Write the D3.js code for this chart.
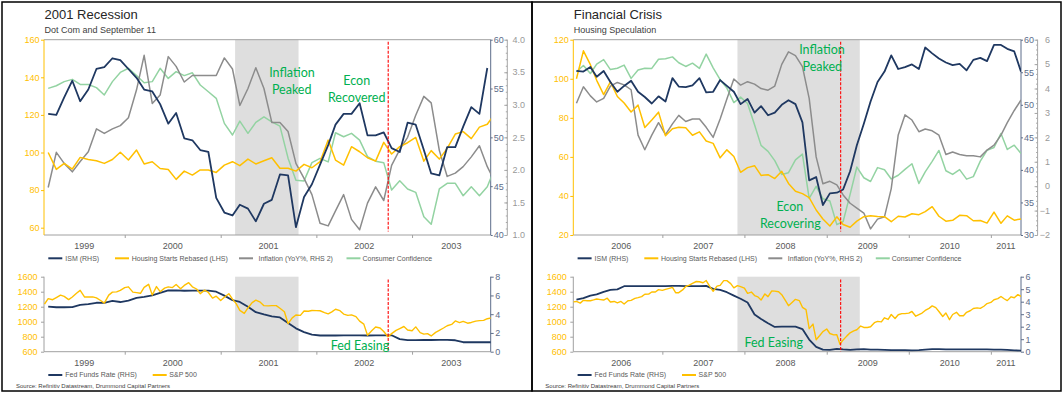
<!DOCTYPE html>
<html>
<head>
<meta charset="utf-8">
<script src="https://cdn.jsdelivr.net/npm/d3@7"></script>
<style>
  body { margin: 0; background: #fff; }
  svg { display: block; font-family: "Liberation Sans", Arial, sans-serif; }
</style>
</head>
<body>
<svg id="chart" width="1063" height="395"></svg>
<script>
// ---- 2001 recession panel (monthly from Mar 1999, S&P semi-monthly) ----
var dotStart = [1999, 2];
var dotYears = [1999, 2000, 2001, 2002, 2003];
var dotIsm = [52.4, 52.3, 54.1, 55.8, 53.7, 54.9, 57.0, 57.2, 58.1, 57.9,
  57.0, 56.1, 54.9, 54.7, 53.4, 51.4, 52.5, 49.9, 49.7, 48.7, 48.5, 43.8,
  42.3, 42.0, 43.1, 42.7, 41.4, 43.2, 43.6, 46.2, 46.1, 40.8, 43.9, 45.2,
  47.2, 49.2, 51.3, 52.4, 52.4, 53.5, 50.2, 50.2, 50.5, 48.9, 48.5, 51.5,
  51.3, 48.7, 46.3, 46.1, 49.0, 49.0, 51.1, 53.1, 52.4, 57.1];
var dotHousing = [100.0, 91.0, 94.2, 91.2, 97.4, 96.3, 95.6, 94.2, 96.3, 100.1,
  96.0, 101.3, 93.9, 95.1, 91.5, 91.0, 85.7, 90.1, 88.0, 90.7, 90.7, 89.4,
  93.3, 95.1, 93.0, 96.5, 93.9, 95.6, 97.2, 91.6, 91.6, 90.1, 93.7, 91.9,
  95.1, 106.6, 96.0, 93.3, 103.1, 100.4, 97.2, 95.4, 105.4, 99.2, 103.1, 105.2,
  108.0, 95.4, 101.0, 96.5, 102.2, 109.8, 111.1, 107.4, 113.5, 115.0, 121.0];
var dotInflation = [1.73, 2.27, 2.10, 1.97, 2.13, 2.28, 2.63, 2.56, 2.63, 2.68,
  2.80, 3.23, 3.76, 3.02, 3.15, 3.74, 3.59, 3.35, 3.45, 3.45, 3.45, 3.45,
  3.72, 3.55, 2.99, 3.25, 3.57, 3.25, 2.73, 2.73, 2.59, 2.10, 1.87, 1.62,
  1.18, 1.14, 1.37, 1.62, 1.24, 1.08, 1.49, 1.74, 1.53, 2.07, 2.31, 2.50,
  2.84, 3.13, 3.03, 2.30, 1.90, 1.95, 2.05, 2.20, 2.37, 2.05, 1.80];
var dotConfidence = [134.1, 135.5, 137.7, 138.9, 136.2, 136.2, 134.5, 130.6, 137.7, 142.6,
  144.8, 140.9, 137.1, 137.7, 144.8, 139.4, 143.0, 140.9, 142.4, 135.9, 132.3, 128.8,
  115.5, 109.3, 116.7, 110.2, 116.0, 119.0, 116.3, 114.0, 97.0, 85.3, 84.9, 94.6,
  96.9, 95.0, 110.5, 108.4, 110.2, 106.6, 97.8, 95.4, 94.6, 80.0, 85.0, 80.6,
  78.8, 65.8, 61.8, 80.6, 83.6, 83.6, 77.0, 81.8, 77.0, 81.8, 92.5];
var dotFedFunds = [4.81, 4.74, 4.74, 4.76, 4.99, 5.07, 5.22, 5.20, 5.42, 5.30,
  5.45, 5.73, 5.85, 6.02, 6.27, 6.53, 6.54, 6.50, 6.52, 6.51, 6.51, 6.40,
  5.98, 5.49, 5.31, 4.80, 4.21, 3.97, 3.77, 3.65, 3.07, 2.49, 2.09, 1.82,
  1.73, 1.74, 1.73, 1.75, 1.75, 1.75, 1.73, 1.74, 1.75, 1.75, 1.34, 1.24,
  1.24, 1.26, 1.25, 1.26, 1.26, 1.22, 1.01, 1.03, 1.01, 1.01, 1.00];
var dotSpx = [1236, 1307, 1293, 1322, 1354, 1337, 1295, 1330, 1380, 1418, 1329, 1330, 1331, 1318, 1283, 1248, 1354, 1394, 1397, 1418,
  1455, 1465, 1394, 1387, 1379, 1458, 1498, 1356, 1468, 1400, 1448, 1464, 1455, 1495, 1438, 1484, 1520, 1465, 1436, 1374, 1421, 1389, 1315, 1340,
  1283, 1326, 1373, 1301, 1241, 1150, 1110, 1183, 1255, 1287, 1260, 1214, 1211, 1214, 1215, 1180, 1133, 975, 1051, 1090, 1084, 1142, 1139, 1149,
  1148, 1146, 1122, 1104, 1131, 1166, 1147, 1102, 1084, 1091, 1067, 1007, 968, 820, 884, 930, 916, 870, 800, 841, 885, 909, 936, 890,
  879, 931, 855, 834, 841, 810, 858, 885, 916, 946, 964, 1010, 988, 1004, 980, 990, 1008, 1014, 1018, 1040, 1050];
var dotRecession = ['2001-02-25', '2001-10-25'];
var dotMarker = '2002-10-02';

// ---- Financial crisis panel (monthly from Dec 2005, S&P semi-monthly) ----
var gfcStart = [2005, 11];
var gfcYears = [2006, 2007, 2008, 2009, 2010, 2011];
var gfcIsm = [55.2, 55.1, 55.8, 54.3, 55.2, 53.5, 52.0, 52.9, 53.7, 52.0, 51.2, 50.2, 51.3,
  50.5, 54.1, 52.8, 52.7, 53.0, 54.1, 51.9, 52.0, 53.8, 52.9, 52.0, 50.1,
  50.9, 48.8, 49.8, 48.4, 48.8, 50.0, 50.7, 50.1, 47.3, 38.4, 38.9, 34.6,
  36.4, 36.5, 37.0, 39.8, 43.8, 47.1, 50.5, 53.5, 55.1, 57.6, 55.5, 55.8,
  56.2, 55.5, 58.8, 57.9, 57.1, 56.5, 56.1, 56.3, 55.3, 56.9, 57.2, 56.7,
  59.2, 59.2, 58.6, 58.2, 55.1];
var gfcHousing = [100.0, 114.3, 107.2, 99.2, 91.9, 98.4, 90.9, 87.6, 83.0, 86.5, 75.0, 78.9, 82.9,
  70.8, 74.4, 75.2, 74.9, 71.1, 72.8, 68.1, 66.9, 59.5, 63.6, 60.2, 52.1,
  54.5, 55.5, 50.5, 50.9, 48.9, 52.6, 46.4, 42.4, 41.2, 39.1, 32.8, 28.2,
  24.6, 29.3, 25.4, 24.0, 27.1, 29.4, 29.9, 29.5, 29.4, 26.8, 29.6, 29.2,
  30.9, 30.4, 32.0, 34.5, 29.6, 27.1, 27.5, 30.1, 29.9, 27.3, 27.4, 26.1,
  31.7, 26.0, 29.8, 27.6, 28.2];
var gfcInflation = [3.4, 4.07, 3.7, 3.45, 3.6, 4.1, 4.25, 4.15, 3.95, 2.09, 1.49, 2.09, 2.6,
  2.11, 2.55, 2.9, 2.65, 2.75, 2.75, 2.41, 2.0, 2.75, 3.57, 4.39, 4.14,
  4.28, 4.18, 4.0, 3.93, 4.1, 4.99, 5.5, 5.35, 4.9, 3.6, 1.2, 0.1,
  0.2, 0.05, -0.36, -0.7, -0.9, -1.1, -1.75, -1.35, -1.25, -0.1, 2.1, 2.92,
  2.71, 2.23, 2.34, 2.27, 2.09, 1.3, 1.4, 1.3, 1.25, 1.25, 1.2, 1.48,
  1.68, 2.09, 2.6, 3.1, 3.53];
var gfcConfidence = [103.6, 106.8, 102.7, 107.5, 109.8, 104.7, 105.4, 107.0, 100.2, 104.5, 105.4, 105.3, 110.0,
  110.2, 111.2, 108.2, 106.3, 108.0, 105.3, 112.6, 105.6, 99.5, 95.2, 87.8, 90.6,
  87.3, 76.4, 65.9, 62.8, 58.1, 51.0, 51.9, 58.5, 61.4, 38.8, 44.9, 38.6,
  37.4, 25.3, 26.9, 40.8, 54.8, 49.3, 47.4, 54.5, 53.4, 48.7, 50.6, 53.6,
  56.5, 46.4, 52.3, 57.7, 63.3, 52.9, 51.0, 53.5, 48.6, 49.9, 57.8, 63.4,
  64.8, 72.0, 63.8, 66.0, 61.7];
var gfcFedFunds = [4.16, 4.29, 4.49, 4.59, 4.79, 4.94, 4.99, 5.24, 5.25, 5.25, 5.25, 5.25, 5.24,
  5.25, 5.26, 5.26, 5.25, 5.25, 5.25, 5.26, 5.02, 4.94, 4.76, 4.49, 4.24,
  3.94, 2.98, 2.61, 2.28, 1.98, 2.00, 2.01, 2.00, 1.81, 0.97, 0.39, 0.16,
  0.15, 0.22, 0.18, 0.15, 0.18, 0.21, 0.16, 0.16, 0.15, 0.12, 0.12, 0.12,
  0.11, 0.13, 0.16, 0.20, 0.20, 0.18, 0.18, 0.19, 0.19, 0.19, 0.19, 0.18,
  0.17, 0.16, 0.14, 0.10, 0.09];
var gfcSpx = [1265, 1270,
  1248, 1285, 1280, 1280, 1291, 1303, 1295, 1289, 1313, 1262, 1270, 1252, 1270, 1236, 1280, 1285, 1311, 1321, 1335, 1366, 1367, 1396, 1396, 1427,
  1418, 1430, 1445, 1457, 1387, 1387, 1424, 1469, 1487, 1512, 1536, 1533, 1519, 1549, 1465, 1406, 1474, 1484, 1547, 1548, 1508, 1452, 1481, 1468,
  1447, 1378, 1395, 1349, 1331, 1288, 1370, 1334, 1409, 1408, 1400, 1360, 1284, 1214, 1260, 1298, 1282, 1192, 1161, 907, 968, 760, 816, 868,
  903, 843, 825, 826, 700, 757, 811, 852, 877, 893, 942, 923, 923, 932, 987, 1004, 998, 1052, 1030, 1096, 1042, 1093, 1108, 1107,
  1115, 1136, 1073, 1094, 1115, 1150, 1178, 1211, 1187, 1136, 1070, 1116, 1027, 1096, 1125, 1079, 1080, 1125, 1146, 1176, 1184, 1178, 1206, 1242,
  1257, 1293, 1307, 1336, 1306, 1281, 1332, 1319, 1361, 1338];
var gfcRecession = ['2007-12-01', '2009-05-28'];
var gfcMarker = '2009-03-04';

// ---- axis ticks ----
var dotLhsTicks = [60, 80, 100, 120, 140, 160];
var dotIsmTicks = [40, 45, 50, 55, 60];
var dotInflTicks = [1.0, 1.5, 2.0, 2.5, 3.0, 3.5, 4.0];
var dotFedTicks = [0, 2, 4, 6, 8];
var gfcLhsTicks = [20, 40, 60, 80, 100, 120];
var gfcIsmTicks = [30, 35, 40, 45, 50, 55, 60];
var gfcInflTicks = [-2, -1, 0, 1, 2, 3, 4, 5, 6];
var gfcFedTicks = [0, 1, 2, 3, 4, 5, 6];
var spxTicks = [600, 800, 1000, 1200, 1400, 1600];

var topLegend = ['ISM (RHS)', 'Housing Starts Rebased (LHS)', 'Inflation (YoY%, RHS 2)', 'Consumer Confidence'];
var bottomLegend = ['Fed Funds Rate (RHS)', 'S&P 500'];

var C = {
  ism: '#1f3861', housing: '#ffc000', inflation: '#8c8c8c', confidence: '#93d3a2',
  slate: '#5d6d8a', grey: '#a6a6a6', axis: '#a0a0a0', text: '#595959',
  shade: '#dedede', red: '#ff0000', note: '#00b050'
};
var TOP = [39.7, 235], BOT = [276.7, 351.7];
var FONT = '"Liberation Sans", Arial, sans-serif';
var NOTE_FONT = 'Lato, "Open Sans", sans-serif';

var svg = d3.select('#chart');
var parse = d3.timeParse('%Y-%m-%d');

function monthly(start, vals) {
  return vals.map(function(v, i) { return { date: new Date(start[0], start[1] + i, 15), v: v }; });
}
function semiMonthly(start, vals) {
  return vals.map(function(v, i) {
    return { date: new Date(start[0], start[1] + Math.floor(i / 2), i % 2 ? 15 : 1), v: v };
  });
}

function styleAxis(g, lineColor, textColor) {
  g.attr('font-size', 9).attr('font-family', FONT);
  g.select('.domain').remove();
  g.selectAll('line').attr('stroke', lineColor);
  g.selectAll('text').attr('fill', textColor);
}

function drawPanel(p) {
  var g = svg.append('g');
  var x = d3.scaleTime().domain(p.xDomain.map(parse)).range([p.x0, p.x1]);
  var yL = d3.scaleLinear().domain(p.lhsDomain).range(p.lhsRange);
  var yIsm = d3.scaleLinear().domain(p.ismDomain).range([TOP[1], TOP[0]]);
  var yInf = d3.scaleLinear().domain(p.inflDomain).range([TOP[1], TOP[0]]);
  var ySpx = d3.scaleLinear().domain([600, 1600]).range([BOT[1], BOT[0]]);
  var yFed = d3.scaleLinear().domain(p.fedDomain).range([BOT[1], BOT[0]]);
  var intFmt = d3.format('d');

  // titles
  g.append('text').attr('x', p.x0 + 0.5).attr('y', 18.8).attr('font-size', 13).attr('fill', '#262626').text(p.title);
  g.append('text').attr('x', p.x0 + 0.5).attr('y', 32.5).attr('font-size', 9).attr('fill', '#404040').text(p.subtitle);

  // recession shading
  [TOP, BOT].forEach(function(r) {
    g.append('rect')
      .attr('x', x(parse(p.recession[0]))).attr('y', r[0])
      .attr('width', x(parse(p.recession[1])) - x(parse(p.recession[0])))
      .attr('height', r[1] - r[0]).attr('fill', C.shade);
  });

  // frame of top plot
  g.append('line').attr('x1', p.x0).attr('x2', p.x1).attr('y1', TOP[0]).attr('y2', TOP[0]).attr('stroke', C.axis);

  var yearDates = d3.range(p.years[0] + 1, p.years[p.years.length - 1] + 1).map(function(y) { return new Date(y, 0, 1); });

  [TOP, BOT].forEach(function(r) {
    g.append('line').attr('x1', p.x0).attr('x2', p.x1).attr('y1', r[1]).attr('y2', r[1]).attr('stroke', C.axis);
    var ax = g.append('g').attr('transform', 'translate(0,' + r[1] + ')')
      .call(d3.axisBottom(x).tickValues(yearDates).tickSize(3).tickSizeOuter(0).tickFormat(''));
    styleAxis(ax, C.axis, C.text);
    p.years.forEach(function(y) {
      var a = Math.max(p.x0, x(new Date(y, 0, 1))), b = Math.min(p.x1, x(new Date(y + 1, 0, 1)));
      g.append('text').attr('x', (a + b) / 2).attr('y', r[1] + 14.2).attr('text-anchor', 'middle')
        .attr('font-size', 9).attr('fill', C.text).text(y);
    });
  });

  // top y axes
  g.append('line').attr('x1', p.x0).attr('x2', p.x0).attr('y1', TOP[0]).attr('y2', TOP[1]).attr('stroke', C.housing);
  var axL = g.append('g').attr('transform', 'translate(' + p.x0 + ',0)')
    .call(d3.axisLeft(yL).tickValues(p.lhsTicks).tickSize(3).tickPadding(1.5).tickFormat(intFmt));
  styleAxis(axL, C.housing, C.housing);

  g.append('line').attr('x1', p.x1).attr('x2', p.x1).attr('y1', TOP[0]).attr('y2', TOP[1]).attr('stroke', C.slate);
  var axR = g.append('g').attr('transform', 'translate(' + p.x1 + ',0)')
    .call(d3.axisRight(yIsm).tickValues(p.ismTicks).tickSize(2).tickPadding(1).tickSizeOuter(0).tickFormat(intFmt));
  styleAxis(axR, C.slate, C.slate);

  var x2 = p.x1 + 16.6;
  g.append('line').attr('x1', x2).attr('x2', x2).attr('y1', TOP[0]).attr('y2', TOP[1]).attr('stroke', C.grey);
  var minor = d3.range(p.inflDomain[0], p.inflDomain[1] + 1e-9, p.inflMinor);
  var axMinor = g.append('g').attr('transform', 'translate(' + x2 + ',0)')
    .call(d3.axisLeft(yInf).tickValues(minor).tickSize(1.5).tickSizeOuter(0).tickFormat(''));
  styleAxis(axMinor, C.grey, C.grey);
  var axMajor = g.append('g').attr('transform', 'translate(' + x2 + ',0)')
    .call(d3.axisLeft(yInf).tickValues(p.inflTicks).tickSize(3).tickSizeOuter(0).tickFormat(''));
  styleAxis(axMajor, C.grey, C.grey);
  g.selectAll(null).data(p.inflTicks).enter().append('text')
    .attr('x', p.x1 + p.inflLabelX).attr('y', function(d) { return yInf(d); }).attr('dy', '0.35em')
    .attr('text-anchor', 'end').attr('font-size', 9).attr('fill', '#999').text(p.inflFormat);

  // bottom y axes
  g.append('line').attr('x1', p.x0).attr('x2', p.x0).attr('y1', BOT[0]).attr('y2', BOT[1]).attr('stroke', C.axis);
  var bL = g.append('g').attr('transform', 'translate(' + p.x0 + ',0)')
    .call(d3.axisLeft(ySpx).tickValues(spxTicks).tickSize(3).tickPadding(3.5).tickSizeOuter(0).tickFormat(intFmt));
  styleAxis(bL, C.axis, C.housing);
  g.append('line').attr('x1', p.x1).attr('x2', p.x1).attr('y1', BOT[0]).attr('y2', BOT[1]).attr('stroke', C.slate);
  var bR = g.append('g').attr('transform', 'translate(' + p.x1 + ',0)')
    .call(d3.axisRight(yFed).tickValues(p.fedTicks).tickSize(3).tickPadding(1.5).tickSizeOuter(0).tickFormat(intFmt));
  styleAxis(bR, C.slate, C.slate);

  // clip paths
  var clipTop = 'clip-top-' + p.id, clipBot = 'clip-bot-' + p.id;
  var defs = svg.append('defs');
  defs.append('clipPath').attr('id', clipTop).append('rect')
    .attr('x', p.x0).attr('y', TOP[0]).attr('width', p.x1 - p.x0).attr('height', TOP[1] - TOP[0]);
  defs.append('clipPath').attr('id', clipBot).append('rect')
    .attr('x', p.x0).attr('y', BOT[0] - 2).attr('width', p.x1 - p.x0).attr('height', BOT[1] - BOT[0] + 2);

  function path(clip, data, y, color, w) {
    g.append('path').datum(data).attr('clip-path', 'url(#' + clip + ')')
      .attr('fill', 'none').attr('stroke', color).attr('stroke-width', w).attr('stroke-linejoin', 'round')
      .attr('d', d3.line().x(function(d) { return x(d.date); }).y(function(d) { return y(d.v); }));
  }
  path(clipTop, monthly(p.start, p.confidence), yL, C.confidence, 1.5);
  path(clipTop, monthly(p.start, p.inflation), yInf, C.inflation, 1.5);
  path(clipTop, monthly(p.start, p.housing), yL, C.housing, 1.5);
  path(clipTop, monthly(p.start, p.ism), yIsm, C.ism, 1.8);
  path(clipBot, monthly(p.start, p.fed), yFed, C.ism, 1.8);
  path(clipBot, semiMonthly(p.start, p.spx), ySpx, C.housing, 1.4);

  // marker line
  var mx = x(parse(p.marker));
  [[41.7, 231.5], [279.5, BOT[1]]].forEach(function(r) {
    g.append('line').attr('x1', mx).attr('x2', mx).attr('y1', r[0]).attr('y2', r[1])
      .attr('stroke', C.red).attr('stroke-width', 1.1).attr('stroke-dasharray', '3,1.5');
  });

  // annotations
  p.notes.forEach(function(n) {
    g.append('text').attr('x', n[1]).attr('y', n[2]).attr('dy', '0.35em').attr('text-anchor', 'middle')
      .attr('font-family', NOTE_FONT).attr('font-size', 12.5).attr('fill', C.note).text(n[0]);
  });

  // legends
  var topColors = [C.ism, C.housing, C.inflation, C.confidence];
  var lineOffs = [4.3, 71, 195, 302.5];
  var textOffs = [21.3, 87.7, 214.5, 318.5];
  topLegend.forEach(function(label, i) {
    g.append('line').attr('x1', p.x0 + lineOffs[i]).attr('x2', p.x0 + lineOffs[i] + 14)
      .attr('y1', 258.3).attr('y2', 258.3).attr('stroke', topColors[i]).attr('stroke-width', 2);
    g.append('text').attr('x', p.x0 + textOffs[i]).attr('y', 258.3).attr('dy', '0.35em')
      .attr('font-size', 7).attr('fill', C.text).text(label);
  });
  var botColors = [C.ism, C.housing];
  var botLineOffs = [4.3, 108.7];
  var botTextOffs = [21.3, 125.3];
  bottomLegend.forEach(function(label, i) {
    g.append('line').attr('x1', p.x0 + botLineOffs[i]).attr('x2', p.x0 + botLineOffs[i] + 14)
      .attr('y1', 375).attr('y2', 375).attr('stroke', botColors[i]).attr('stroke-width', 2);
    g.append('text').attr('x', p.x0 + botTextOffs[i]).attr('y', 375).attr('dy', '0.35em')
      .attr('font-size', 7).attr('fill', C.text).text(label);
  });
  g.append('text').attr('x', p.x0 - 28).attr('y', 386).attr('dy', '0.35em')
    .attr('font-size', 6).attr('fill', '#404040').text('Source: Refinitiv Datastream, Drummond Capital Partners');
}

drawPanel({
  id: 'dot', title: '2001 Recession', subtitle: 'Dot Com and September 11',
  x0: 44, x1: 490.7, xDomain: ['1999-02-27', '2003-10-28'], years: dotYears, start: dotStart,
  lhsDomain: [60, 160], lhsRange: [227.7, 39.7], lhsTicks: dotLhsTicks,
  ismDomain: [40, 60], ismTicks: dotIsmTicks,
  inflDomain: [1, 4], inflTicks: dotInflTicks, inflMinor: 0.1, inflLabelX: 34.3, inflFormat: d3.format('.1f'),
  fedDomain: [0, 8], fedTicks: dotFedTicks,
  ism: dotIsm, housing: dotHousing, inflation: dotInflation, confidence: dotConfidence,
  fed: dotFedFunds, spx: dotSpx, recession: dotRecession, marker: dotMarker,
  notes: [['Inflation', 292, 72.7], ['Peaked', 291.7, 89.3], ['Econ', 356.7, 81], ['Recovered', 356.7, 97.7], ['Fed Easing', 360, 346]]
});
drawPanel({
  id: 'gfc', title: 'Financial Crisis', subtitle: 'Housing Speculation',
  x0: 573.3, x1: 1021, xDomain: ['2005-12-01', '2011-05-15'], years: gfcYears, start: gfcStart,
  lhsDomain: [20, 120], lhsRange: [235, 39.7], lhsTicks: gfcLhsTicks,
  ismDomain: [30, 60], ismTicks: gfcIsmTicks,
  inflDomain: [-2, 6], inflTicks: gfcInflTicks, inflMinor: 0.2, inflLabelX: 29, inflFormat: d3.format('d'),
  fedDomain: [0, 6], fedTicks: gfcFedTicks,
  ism: gfcIsm, housing: gfcHousing, inflation: gfcInflation, confidence: gfcConfidence,
  fed: gfcFedFunds, spx: gfcSpx, recession: gfcRecession, marker: gfcMarker,
  notes: [['Inflation', 822, 50], ['Peaked', 822.3, 67], ['Econ', 789.8, 207], ['Recovering', 790.3, 223.5], ['Fed Easing', 773.8, 342.3]]
});

// panel borders
svg.append('rect').attr('x', 2).attr('y', 2).attr('width', 530).attr('height', 389)
  .attr('fill', 'none').attr('stroke', '#000').attr('stroke-width', 1.5);
svg.append('rect').attr('x', 532).attr('y', 2).attr('width', 529).attr('height', 389)
  .attr('fill', 'none').attr('stroke', '#000').attr('stroke-width', 1.5);
</script>
</body>
</html>
